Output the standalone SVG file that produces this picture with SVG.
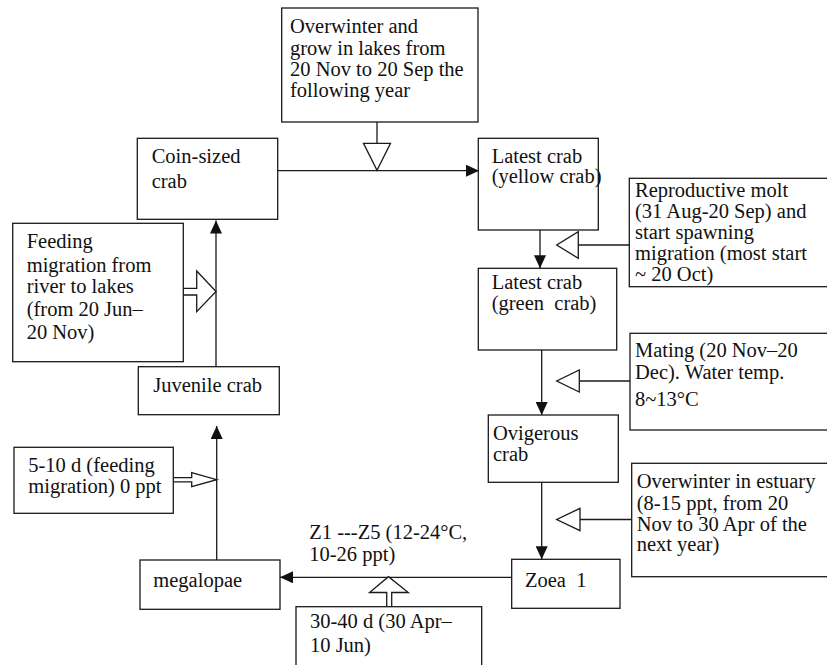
<svg xmlns="http://www.w3.org/2000/svg" width="827" height="665" viewBox="0 0 827 665">
<defs>
<style>
.box{fill:#fff;stroke:#1a1a1a;stroke-width:1.3}
.ln{fill:none;stroke:#1a1a1a;stroke-width:1.3}
.hol{fill:#fff;stroke:#1a1a1a;stroke-width:1.3;stroke-linejoin:miter}
.t{font-family:'Liberation Serif','Times New Roman',serif;font-size:20.5px;fill:#111;white-space:pre}
</style>
<marker id="ah" markerUnits="userSpaceOnUse" markerWidth="13" markerHeight="12" refX="13" refY="6" orient="auto">
<path d="M0,0 L13,6 L0,12 z" fill="#111"/>
</marker>
</defs>
<rect width="827" height="665" fill="#fff"/>

<g id="connectors">
<line class="ln" x1="278" y1="170.7" x2="479" y2="170.7" marker-end="url(#ah)"/>
<line class="ln" x1="377" y1="122" x2="377" y2="143.3"/>
<polygon class="hol" points="363.5,143.3 390.5,143.3 377,170.3"/>
<line class="ln" x1="540" y1="230" x2="540" y2="268.3" marker-end="url(#ah)"/>
<line class="ln" x1="629.3" y1="245" x2="578.3" y2="245"/>
<polygon class="hol" points="578.3,231.7 578.3,258.3 556.7,245"/>
<line class="ln" x1="541.7" y1="350" x2="541.7" y2="415" marker-end="url(#ah)"/>
<line class="ln" x1="630" y1="381" x2="579.3" y2="381"/>
<polygon class="hol" points="579.3,370 579.3,392 556.7,381"/>
<line class="ln" x1="541.7" y1="482.3" x2="541.7" y2="559.3" marker-end="url(#ah)"/>
<line class="ln" x1="631.7" y1="519.5" x2="580" y2="519.5"/>
<polygon class="hol" points="580,508.3 580,530.7 556.7,519.5"/>
<line class="ln" x1="511.7" y1="577.3" x2="280" y2="577.3" marker-end="url(#ah)"/>
<polygon class="hol" points="386.7,606.7 386.7,592.5 369.5,592.5 388.5,576.7 408.3,592.5 391.7,592.5 391.7,606.7"/>
<line class="ln" x1="216.7" y1="560" x2="216.7" y2="426" marker-end="url(#ah)"/>
<polygon class="hol" points="173.3,477.6 191.7,477.6 191.7,472.7 216.7,479.7 191.7,486.7 191.7,481.8 173.3,481.8"/>
<line class="ln" x1="216" y1="366.7" x2="216" y2="220.5" marker-end="url(#ah)"/>
<polygon class="hol" points="183.3,288.3 196.7,288.3 196.7,271 216,291.5 196.7,311.7 196.7,295 183.3,295"/>
</g>

<g id="overwinter-lakes">
<rect class="box" x="281.7" y="8" width="196.3" height="114"/>
<text class="t" x="290" y="33.3">Overwinter and</text>
<text class="t" x="290" y="55">grow in lakes from</text>
<text class="t" x="290" y="76">20 Nov to 20 Sep the</text>
<text class="t" x="290" y="97.3">following year</text>
</g>

<g id="coin-sized-crab">
<rect class="box" x="137.3" y="138.3" width="140.4" height="81"/>
<text class="t" x="151.7" y="163.3">Coin-sized</text>
<text class="t" x="151.7" y="188.3">crab</text>
</g>

<g id="yellow-crab">
<rect class="box" x="478.3" y="138.3" width="120" height="91.7"/>
<text class="t" x="491.7" y="162.7">Latest crab</text>
<text class="t" x="491.7" y="183">(yellow crab)</text>
</g>

<g id="reproductive-molt">
<rect class="box" x="629.3" y="178.3" width="215" height="108.4"/>
<text class="t" x="635" y="196.7">Reproductive molt</text>
<text class="t" x="635" y="217.7">(31 Aug-20 Sep) and</text>
<text class="t" x="635" y="238.7">start spawning</text>
<text class="t" x="635" y="259.7">migration (most start</text>
<text class="t" x="635" y="280.7">~ 20 Oct)</text>
</g>

<g id="green-crab">
<rect class="box" x="478.3" y="268.3" width="138.4" height="81.7"/>
<text class="t" x="491.7" y="289.3">Latest crab</text>
<text class="t" x="491.7" y="310">(green  crab)</text>
</g>

<g id="mating">
<rect class="box" x="630" y="333.3" width="215" height="96.7"/>
<text class="t" x="635" y="357">Mating (20 Nov–20</text>
<text class="t" x="635" y="379">Dec). Water temp.</text>
<text class="t" x="635" y="405.5">8~13°C</text>
</g>

<g id="ovigerous-crab">
<rect class="box" x="488.3" y="415" width="130" height="67.3"/>
<text class="t" x="493" y="440">Ovigerous</text>
<text class="t" x="493" y="461">crab</text>
</g>

<g id="overwinter-estuary">
<rect class="box" x="631.7" y="463.3" width="215" height="113.4"/>
<text class="t" x="636.7" y="488.3">Overwinter in estuary</text>
<text class="t" x="636.7" y="509.5">(8-15 ppt, from 20</text>
<text class="t" x="636.7" y="530.7">Nov to 30 Apr of the</text>
<text class="t" x="636.7" y="551">next year)</text>
</g>

<g id="zoea-1">
<rect class="box" x="511.7" y="559.3" width="108.3" height="49"/>
<text class="t" x="525" y="586.7">Zoea  1</text>
</g>

<g id="zoea-label">
<text class="t" x="309.3" y="539">Z1 ---Z5 (12-24°C,</text>
<text class="t" x="309.3" y="560.5">10-26 ppt)</text>
</g>

<g id="duration-30-40">
<rect class="box" x="296" y="606.7" width="185.7" height="70"/>
<text class="t" x="310" y="628.3">30-40 d (30 Apr–</text>
<text class="t" x="310" y="651.7">10 Jun)</text>
</g>

<g id="megalopae">
<rect class="box" x="140" y="560" width="140" height="49.3"/>
<text class="t" x="153.3" y="586.7">megalopae</text>
</g>

<g id="juvenile-crab">
<rect class="box" x="138.3" y="366.7" width="141" height="48"/>
<text class="t" x="153.3" y="391.7">Juvenile crab</text>
</g>

<g id="duration-5-10">
<rect class="box" x="14" y="447.3" width="159.3" height="66"/>
<text class="t" x="28.3" y="471.7">5-10 d (feeding</text>
<text class="t" x="28.3" y="493.3">migration) 0 ppt</text>
</g>

<g id="feeding-migration">
<rect class="box" x="12.7" y="223.3" width="170.6" height="138.4"/>
<text class="t" x="26.7" y="248.3">Feeding</text>
<text class="t" x="26.7" y="271.7">migration from</text>
<text class="t" x="26.7" y="293.3">river to lakes</text>
<text class="t" x="26.7" y="316">(from 20 Jun–</text>
<text class="t" x="26.7" y="339.3">20 Nov)</text>
</g>
</svg>
